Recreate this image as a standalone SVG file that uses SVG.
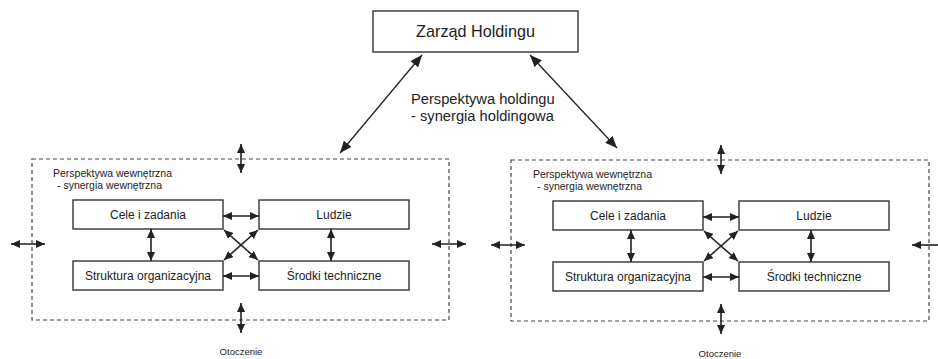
<svg xmlns="http://www.w3.org/2000/svg" width="938" height="359" viewBox="0 0 938 359">
<style>
text{font-family:"Liberation Sans",Arial,sans-serif;fill:#222}
.box{fill:#fff;stroke:#333;stroke-width:1.4}
.dash{fill:none;stroke:#444;stroke-width:1.2;stroke-dasharray:4 3}
.lbl{font-size:12px;text-anchor:middle}
.small{font-size:10.5px}
.env{font-size:9.5px;text-anchor:middle}
.a{stroke:#222;stroke-width:1.6;fill:none;marker-start:url(#ah);marker-end:url(#ah)}
.big{stroke:#222;stroke-width:1.3;fill:none;marker-start:url(#bh);marker-end:url(#bh)}
</style>
<defs>
<marker id="ah" viewBox="0 0 9 8" refX="9" refY="4" markerWidth="9" markerHeight="8" markerUnits="userSpaceOnUse" orient="auto-start-reverse"><path d="M0,0 L9,4 L0,8 z" fill="#222"/></marker>
<marker id="bh" viewBox="0 0 12 10" refX="12" refY="5" markerWidth="12" markerHeight="10" markerUnits="userSpaceOnUse" orient="auto-start-reverse"><path d="M0,0 L12,5 L0,10 z" fill="#222"/></marker>
</defs>
<rect width="938" height="359" fill="#fff"/>

<g id="zarzad">
<rect class="box" x="373" y="11" width="205" height="41"/>
<text x="475.5" y="37" style="font-size:16.2px" text-anchor="middle">Zarząd Holdingu</text>
</g>
<g id="holding-label">
<text x="411" y="104" style="font-size:14.7px">Perspektywa holdingu</text>
<text x="411" y="121" style="font-size:14.7px">- synergia holdingowa</text>
</g>

<!-- Left panel -->
<g id="panel-left">
<rect class="dash" x="32" y="159" width="417" height="161"/>
<text class="small" x="53" y="177">Perspektywa wewnętrzna</text>
<text class="small" x="57" y="189">- synergia wewnętrzna</text>
</g>
<g id="cele-l"><rect class="box" x="73" y="200" width="150" height="29"/><text class="lbl" x="148" y="219">Cele i zadania</text></g>
<g id="ludzie-l"><rect class="box" x="259" y="200" width="150" height="29"/><text class="lbl" x="334" y="219">Ludzie</text></g>
<g id="struktura-l"><rect class="box" x="73" y="261" width="150" height="29"/><text class="lbl" x="148" y="280">Struktura organizacyjna</text></g>
<g id="srodki-l"><rect class="box" x="259" y="261" width="150" height="29"/><text class="lbl" x="334" y="280">Środki techniczne</text></g>
<g id="otoczenie-l"><text class="env" x="241" y="355">Otoczenie</text></g>

<!-- Right panel -->
<g id="panel-right">
<rect class="dash" x="511" y="160" width="418" height="161"/>
<text class="small" x="533" y="178">Perspektywa wewnętrzna</text>
<text class="small" x="537" y="190">- synergia wewnętrzna</text>
</g>
<g id="cele-r"><rect class="box" x="553" y="201" width="150" height="29"/><text class="lbl" x="628" y="220">Cele i zadania</text></g>
<g id="ludzie-r"><rect class="box" x="739" y="201" width="150" height="29"/><text class="lbl" x="814" y="220">Ludzie</text></g>
<g id="struktura-r"><rect class="box" x="553" y="262" width="150" height="29"/><text class="lbl" x="628" y="281">Struktura organizacyjna</text></g>
<g id="srodki-r"><rect class="box" x="739" y="262" width="150" height="29"/><text class="lbl" x="814" y="281">Środki techniczne</text></g>
<g id="otoczenie-r"><text class="env" x="720" y="357">Otoczenie</text></g>

<g id="connectors">
<line class="big" x1="340" y1="153" x2="422" y2="55"/>
<line class="big" x1="530" y1="55" x2="617" y2="148"/>

<!-- left panel -->
<line class="a" x1="223" y1="216" x2="259" y2="216"/>
<line class="a" x1="223" y1="276" x2="259" y2="276"/>
<line class="a" x1="151" y1="229" x2="151" y2="261"/>
<line class="a" x1="331" y1="229" x2="331" y2="261"/>
<line class="a" x1="224" y1="230" x2="258" y2="260"/>
<line class="a" x1="258" y1="230" x2="224" y2="260"/>
<line class="a" x1="241" y1="144" x2="241" y2="173"/>
<line class="a" x1="241" y1="303" x2="241" y2="333"/>
<line class="a" x1="11" y1="244" x2="45" y2="244"/>
<line class="a" x1="432" y1="244" x2="466" y2="244"/>

<!-- right panel -->
<line class="a" x1="703" y1="217" x2="739" y2="217"/>
<line class="a" x1="703" y1="277" x2="739" y2="277"/>
<line class="a" x1="631" y1="230" x2="631" y2="262"/>
<line class="a" x1="811" y1="230" x2="811" y2="262"/>
<line class="a" x1="704" y1="231" x2="738" y2="261"/>
<line class="a" x1="738" y1="231" x2="704" y2="261"/>
<line class="a" x1="721" y1="145" x2="721" y2="174"/>
<line class="a" x1="721" y1="304" x2="721" y2="334"/>
<line class="a" x1="491" y1="245" x2="525" y2="245"/>
<line x1="912" y1="245" x2="940" y2="245" style="stroke:#222;stroke-width:1.6;marker-start:url(#ah)"/>
</g>
</svg>
